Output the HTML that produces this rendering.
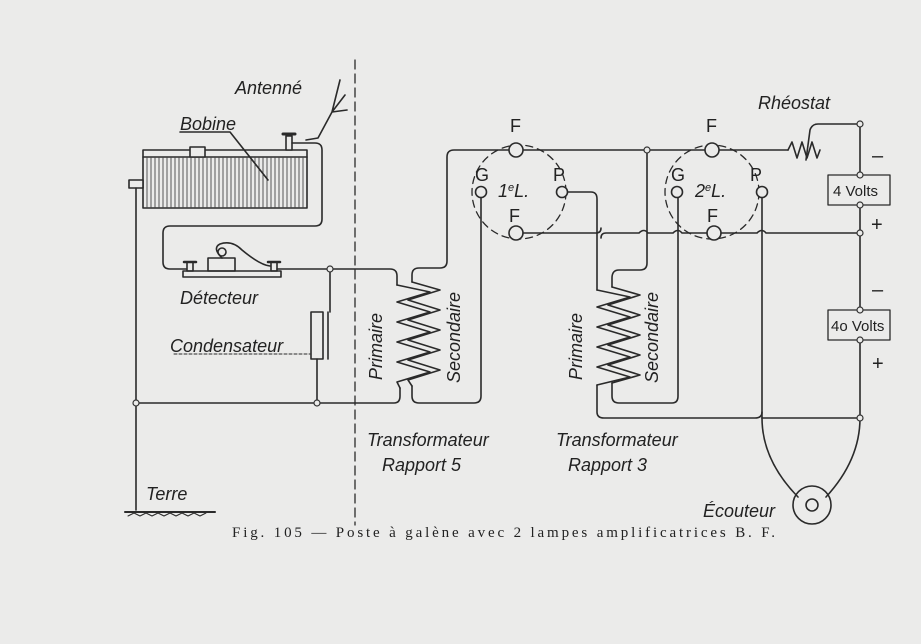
<!DOCTYPE html>
<html><head><meta charset="utf-8"><style>
html,body{margin:0;padding:0;background:#ebebea;}
svg{display:block}
text{font-family:"Liberation Sans",sans-serif;fill:#222;}
.it{font-style:italic;font-size:18px;}
</style></head><body>
<svg width="921" height="644" viewBox="0 0 921 644" xmlns="http://www.w3.org/2000/svg">
<rect width="921" height="644" fill="#ebebea"/>
<g fill="none" stroke="#2a2a2a" stroke-width="1.6" stroke-linecap="round" stroke-linejoin="round">
<line x1="355" y1="60" x2="355" y2="525" stroke-dasharray="9,5" stroke-width="1.3"/>
<path d="M306 140 L318 138 L332 112 L340 80 M332 112 L345 95 M332 112 L347 110"/>
<rect x="143" y="150" width="164" height="58"/>
<line x1="143" y1="157" x2="307" y2="157"/>
<g stroke-width="1" stroke="#555">
<path d="M147 158V207M151 158V207M155 158V207M159 158V207M163 158V207M167 158V207M171 158V207M175 158V207M179 158V207M183 158V207M187 158V207M191 158V207M195 158V207M199 158V207M203 158V207M207 158V207M211 158V207M215 158V207M219 158V207M223 158V207M227 158V207M231 158V207M235 158V207M239 158V207M243 158V207M247 158V207M251 158V207M255 158V207M259 158V207M263 158V207M267 158V207M271 158V207M275 158V207M279 158V207M283 158V207M287 158V207M291 158V207M295 158V207M299 158V207M303 158V207"/>
</g>
<rect x="190" y="147" width="15" height="10" fill="#ebebea"/>
<rect x="286" y="136" width="6" height="14" fill="#ebebea"/>
<line x1="283" y1="134" x2="295" y2="134" stroke-width="3"/>
<rect x="129" y="180" width="14" height="8" fill="#ebebea"/>
<path d="M180 132 L230 132 L268 180"/>
<path d="M292 143 H315 Q322 143 322 150 V219 Q322 226 315 226 H170 Q163 226 163 233 V262 Q163 269 170 269 H186"/>
<rect x="183" y="271" width="98" height="6"/>
<rect x="208" y="258" width="27" height="13"/>
<rect x="187" y="262" width="6" height="9"/><line x1="184" y1="262" x2="196" y2="262" stroke-width="2.5"/>
<rect x="271" y="262" width="6" height="9"/><line x1="268" y1="262" x2="280" y2="262" stroke-width="2.5"/>
<path d="M222 258 Q212 248 220 244 Q232 240 242 250 Q260 265 270 266"/>
<circle cx="222" cy="252" r="4"/>
<path d="M277 269 H390 Q397 269 397 276 V285"/>
<line x1="330" y1="269" x2="330" y2="312"/>
<rect x="311" y="312" width="12" height="47"/>
<line x1="328" y1="312" x2="328" y2="359"/>
<line x1="317" y1="359" x2="317" y2="403"/>
<line x1="174" y1="354" x2="310" y2="354" stroke-dasharray="3,2" stroke-width="1"/>
<path d="M136 188 V510"/>
<path d="M136 403 H394 Q400 403 400 396 V388"/>
<line x1="125" y1="512" x2="215" y2="512" stroke-width="2"/>
<path d="M128 516 l6 -3 l6 3 l6 -3 l6 3 l6 -3 l6 3 l6 -3 l6 3 l6 -3 l6 3 l6 -3 l6 3 l6 -3" stroke-width="1"/>
<path d="M397 285 L430 292 L397 302 L430 312 L397 322 L430 332 L397 342 L430 352 L397 362 L430 372 L397 382 L400 388"/>
<path d="M412 282 L440 290 L408 300 L440 310 L408 320 L440 330 L408 340 L440 350 L408 360 L440 370 L408 380 L412 386"/>
<path d="M412 282 V275 Q412 268 419 268 H440 Q447 268 447 261 V157 Q447 150 454 150 H509"/>
<path d="M412 386 V396 Q412 403 419 403 H474 Q481 403 481 396 V197"/>
<path d="M523 150 H705 M719 150 H788"/>
<path d="M788 150 L792 142 L797 158 L802 142 L807 158 L812 142 L817 158 L820 150"/>
<path d="M806 160 L810 130 Q812 124 818 124 H860"/>
<circle cx="519" cy="192" r="47" stroke-dasharray="7,5" stroke-width="1.3"/>
<circle cx="712" cy="192" r="47" stroke-dasharray="7,5" stroke-width="1.3"/>
<circle cx="516" cy="150" r="7" fill="#ebebea"/>
<circle cx="481" cy="192" r="5.5" fill="#ebebea"/>
<circle cx="562" cy="192" r="5.5" fill="#ebebea"/>
<circle cx="516" cy="233" r="7" fill="#ebebea"/>
<circle cx="712" cy="150" r="7" fill="#ebebea"/>
<circle cx="677" cy="192" r="5.5" fill="#ebebea"/>
<circle cx="762" cy="192" r="5.5" fill="#ebebea"/>
<circle cx="714" cy="233" r="7" fill="#ebebea"/>
<path d="M523 233 H596 Q601 233 601 228 M601 238 Q601 233 606 233 H639 Q644 228 648 233 H673 Q678 228 682 233 H707 M721 233 H757 Q762 228 766 233 H860"/>
<path d="M568 192 H591 Q597 192 597 199 V290"/>
<path d="M597 290 L630 297 L597 307 L630 317 L597 327 L630 337 L597 347 L630 357 L597 367 L630 377 L597 385"/>
<path d="M612 287 L640 295 L608 305 L640 315 L608 325 L640 335 L608 345 L640 355 L608 365 L640 375 L612 383"/>
<path d="M597 385 V412 Q597 418 604 418 H755 Q762 418 762 412"/>
<path d="M612 287 V278 Q612 270 619 270 H640 Q647 270 647 263 V150"/>
<path d="M612 383 V396 Q612 403 619 403 H672 Q678 403 678 396 V198"/>
<path d="M762 198 V418"/>
<path d="M860 124 V175 M860 205 V310 M860 340 V418 H762"/>
<rect x="828" y="175" width="62" height="30" stroke-width="1.3"/>
<rect x="828" y="310" width="62" height="30" stroke-width="1.3"/>
<path d="M762 418 Q762 460 798 497"/>
<path d="M860 418 Q860 460 826 497"/>
<circle cx="812" cy="505" r="19"/>
<circle cx="812" cy="505" r="6"/>
</g>
<g fill="#ebebea" stroke="#333" stroke-width="1.2">
<circle cx="330" cy="269" r="3"/><circle cx="136" cy="403" r="3"/><circle cx="317" cy="403" r="3"/>
<circle cx="647" cy="150" r="3"/><circle cx="860" cy="124" r="3"/><circle cx="860" cy="175" r="3"/><circle cx="860" cy="205" r="3"/>
<circle cx="860" cy="233" r="3"/><circle cx="860" cy="310" r="3"/><circle cx="860" cy="340" r="3"/><circle cx="860" cy="418" r="3"/>
</g>
<text class="it" x="235" y="94">Antenné</text>
<text class="it" x="180" y="130">Bobine</text>
<text class="it" x="180" y="304">Détecteur</text>
<text class="it" x="170" y="352">Condensateur</text>
<text class="it" x="146" y="500">Terre</text>
<text class="it" x="367" y="446">Transformateur</text>
<text class="it" x="382" y="471">Rapport 5</text>
<text class="it" x="556" y="446">Transformateur</text>
<text class="it" x="568" y="471">Rapport 3</text>
<text class="it" x="703" y="517">Écouteur</text>
<text class="it" x="758" y="109">Rhéostat</text>
<text class="it" transform="translate(382,380) rotate(-90)">Primaire</text>
<text class="it" transform="translate(460,383) rotate(-90)">Secondaire</text>
<text class="it" transform="translate(582,380) rotate(-90)">Primaire</text>
<text class="it" transform="translate(658,383) rotate(-90)">Secondaire</text>
<g font-size="18">
<text x="510" y="132">F</text><text x="475" y="181">G</text><text x="553" y="181">P</text><text x="509" y="222">F</text>
<text x="706" y="132">F</text><text x="671" y="181">G</text><text x="750" y="181">P</text><text x="707" y="222">F</text>
<text x="498" y="197" font-style="italic">1<tspan font-size="11" dy="-6">e</tspan><tspan dy="6">L.</tspan></text>
<text x="695" y="197" font-style="italic">2<tspan font-size="11" dy="-6">e</tspan><tspan dy="6">L.</tspan></text>
</g>
<text x="833" y="196" font-size="15">4 Volts</text>
<text x="831" y="331" font-size="15">4o Volts</text>
<g font-size="20" fill="#333"><text x="872" y="162">–</text><text x="871" y="231">+</text><text x="872" y="296">–</text><text x="872" y="370">+</text></g>
<text x="232" y="537" font-size="15" textLength="543" lengthAdjust="spacing" style="font-family:'Liberation Serif',serif">Fig.  105  — Poste à galène avec 2 lampes amplificatrices  B.  F.</text>
</svg>
</body></html>
